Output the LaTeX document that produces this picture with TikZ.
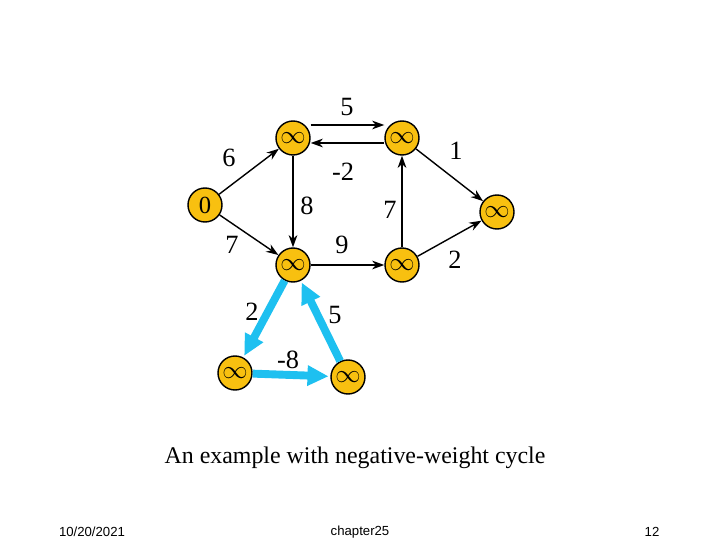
\documentclass[tikz,border=0pt]{standalone}
\usepackage{fontspec}
\setmainfont{Liberation Serif}
\newfontfamily\footfont{Liberation Sans}
\usetikzlibrary{arrows.meta}
\definecolor{nodeorange}{RGB}{248,192,16}
\definecolor{cyclecyan}{RGB}{30,192,240}
\tikzset{
  vtx/.style={circle,draw,thick,fill=nodeorange,minimum size=34\px,inner sep=0pt,font=\fontsize{14}{14}\selectfont},
  edge/.style={->,>={Stealth[length=7pt,width=5pt]},thick},
  cyc/.style={->,>={Triangle[length=12pt,width=11pt]},line width=4.5pt,cyclecyan,shorten >=1pt},
  wt/.style={font=\fontsize{15}{15}\selectfont}
}
\newlength{\px}\setlength{\px}{0.02cm}
\begin{document}
\begin{tikzpicture}[x=0.02cm,y=-0.02cm]
\useasboundingbox (0,0) rectangle (720,540);
\node[vtx] (s) at (205,205) {0};
\node[vtx] (u) at (293,138) {$\infty$};
\node[vtx] (v) at (402,138) {$\infty$};
\node[vtx] (z) at (497,212) {$\infty$};
\node[vtx] (x) at (293,265) {$\infty$};
\node[vtx] (y) at (402,265) {$\infty$};
\node[vtx] (a) at (235,373) {$\infty$};
\node[vtx] (b) at (348,377) {$\infty$};
% edges
\draw[edge] (s) -- (u);
\draw[edge] (s) -- (x);
\draw[edge] ([yshift=13\px]u.east) -- ([yshift=13\px]v.west);
\draw[edge] ([yshift=-5\px]v.west) -- ([yshift=-5\px]u.east);
\draw[edge] (u) -- (x);
\draw[edge] (x) -- (y);
\draw[edge] (y) -- (v);
\draw[edge] (v) -- (z);
\draw[edge] (y) -- (z);
% negative cycle
\draw[cyc] (x) -- (a);
\draw[cyc] (a) -- (b);
\draw[cyc] (b) -- (x);
% weights
\node[wt] at (229,158) {6};
\node[wt] at (347,107) {5};
\node[wt] at (343,172) {-2};
\node[wt] at (307,206) {8};
\node[wt] at (456,151) {1};
\node[wt] at (390,210) {7};
\node[wt] at (232,245) {7};
\node[wt] at (342,245) {9};
\node[wt] at (455,260) {2};
\node[wt] at (252,312) {2};
\node[wt] at (335,315) {5};
\node[wt] at (288,360) {-8};
% caption and footer
\node[font=\fontsize{13.6}{14}\selectfont] at (355,458) {An example with negative-weight cycle};
\node[font=\footfont\fontsize{7.5}{8}\selectfont] at (92,532) {10/20/2021};
\node[font=\footfont\fontsize{7.5}{8}\selectfont] at (360,532) {chapter25};
\node[font=\footfont\fontsize{7.5}{8}\selectfont] at (652,532) {12};
\end{tikzpicture}
\end{document}
